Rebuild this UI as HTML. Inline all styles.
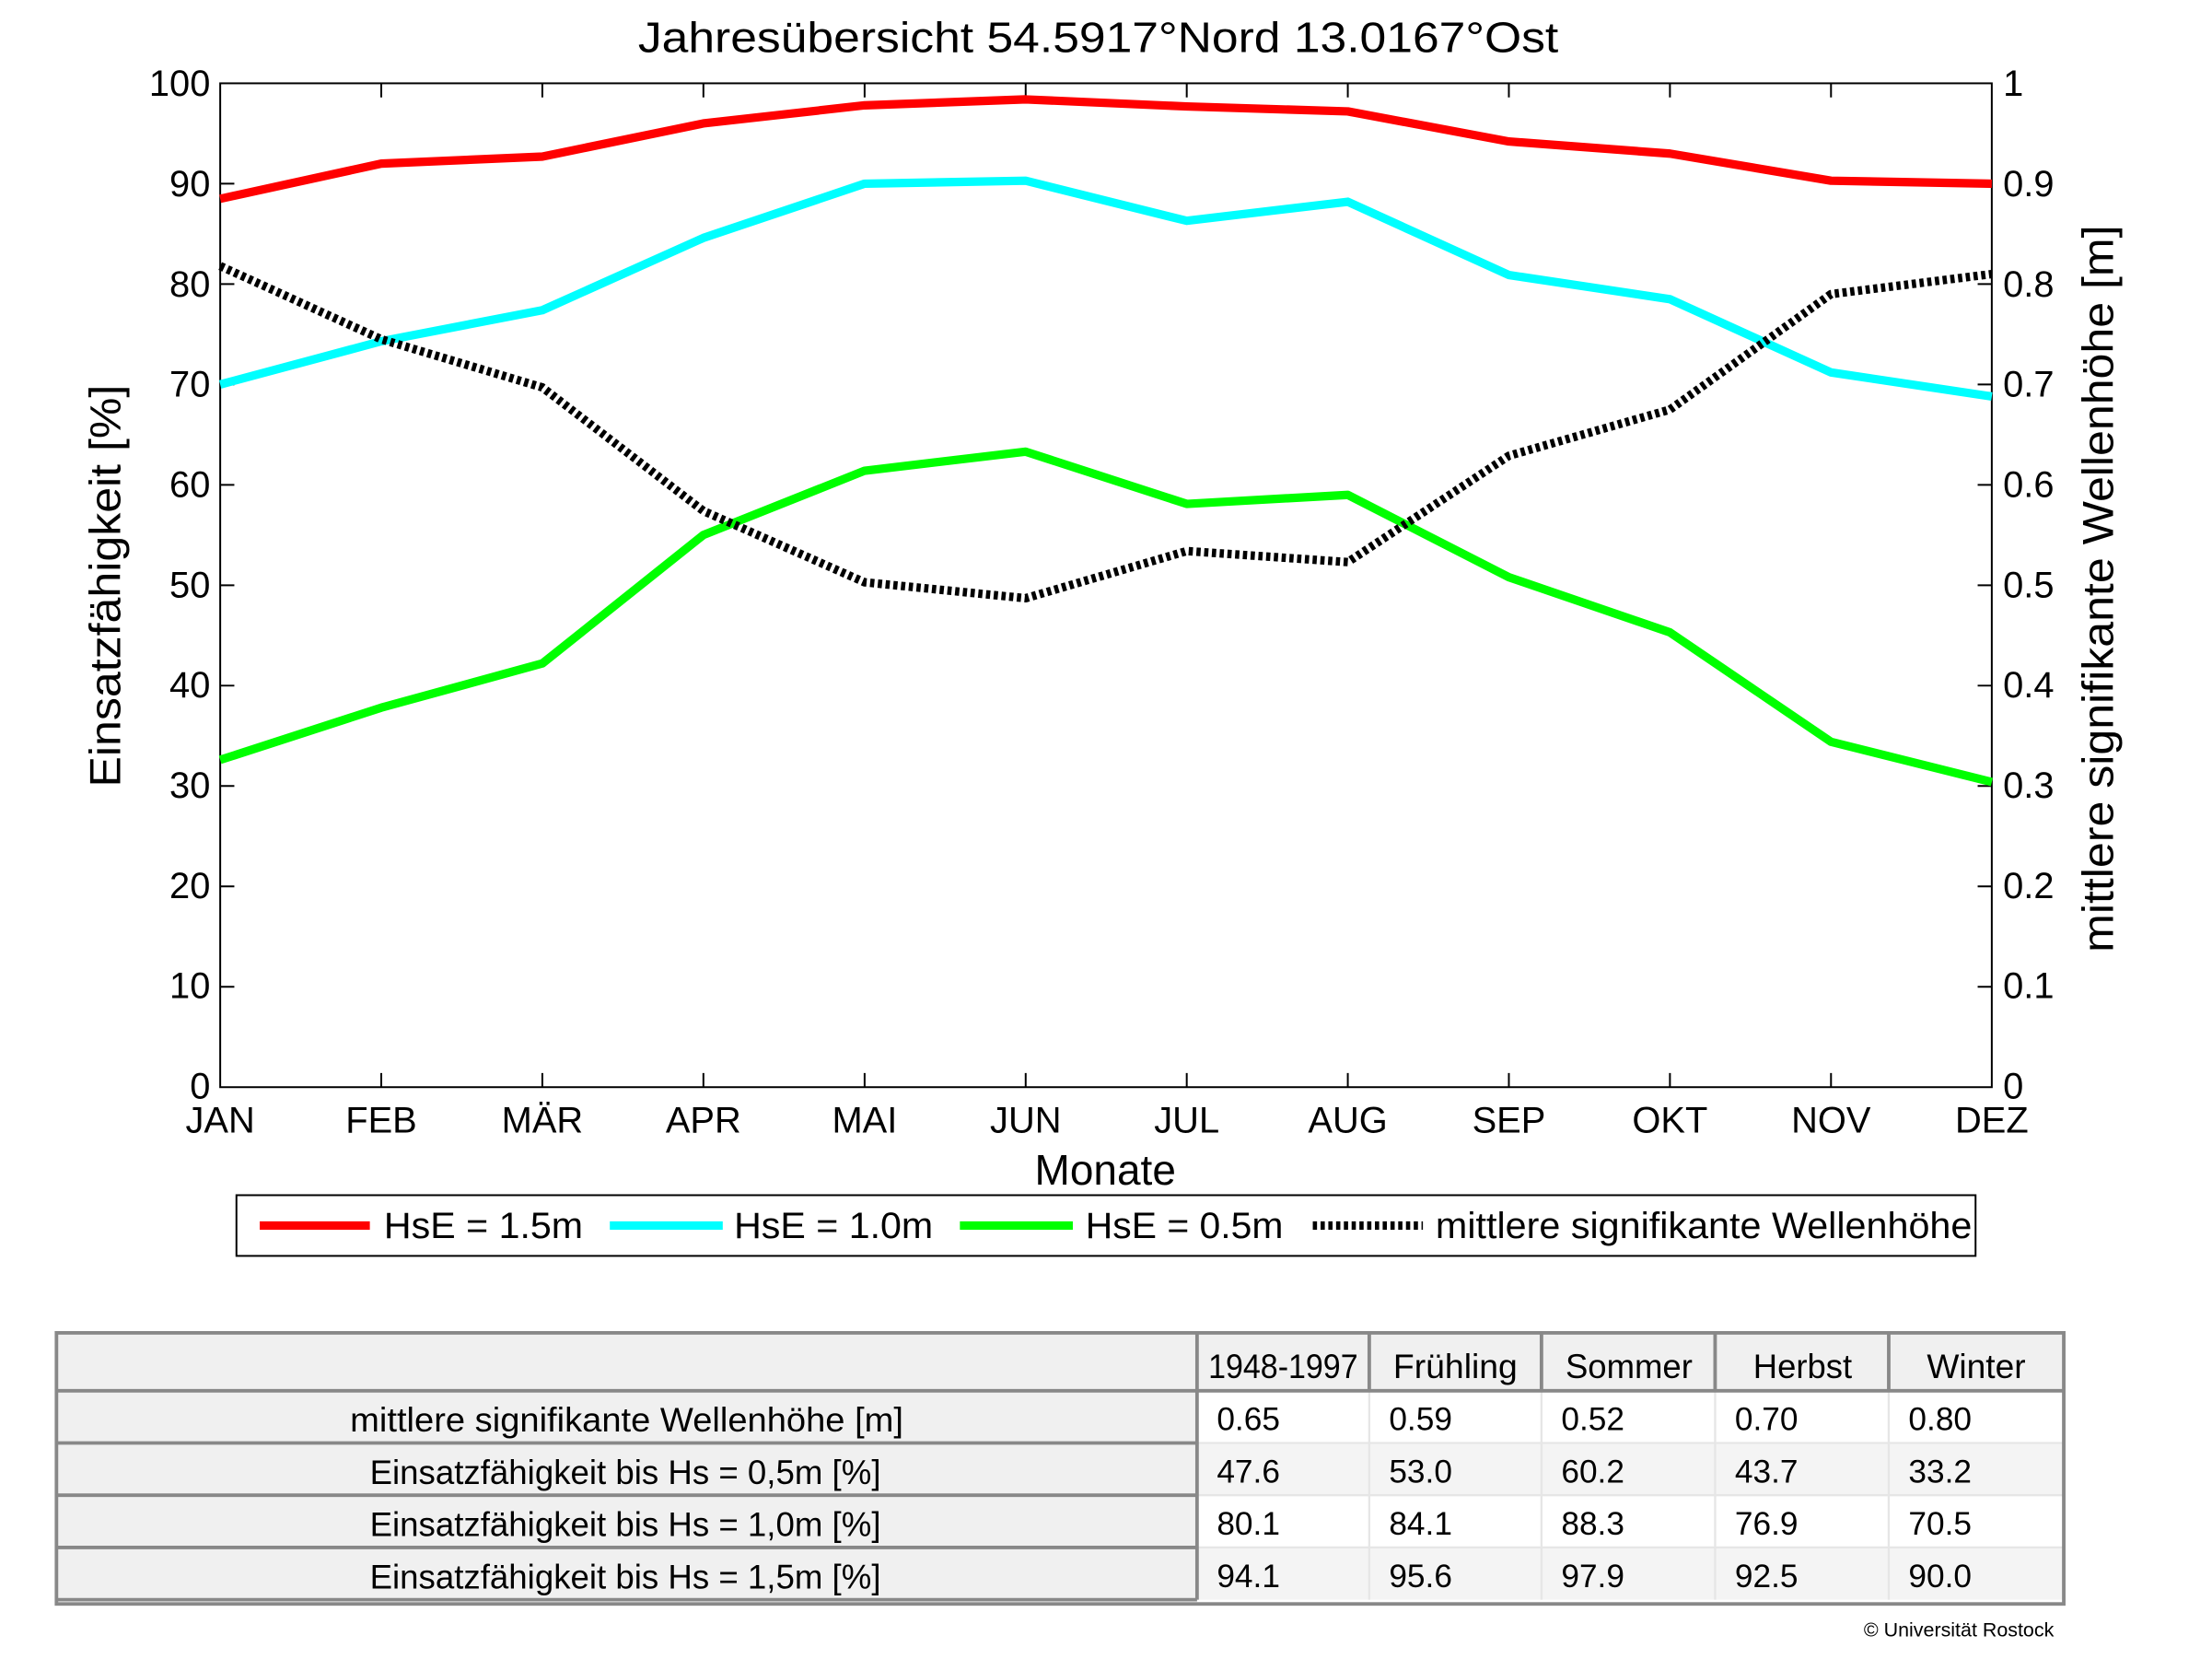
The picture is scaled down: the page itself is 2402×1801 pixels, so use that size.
<!DOCTYPE html>
<html><head><meta charset="utf-8"><style>
html,body{margin:0;padding:0;background:#fff;}
svg{display:block;}
text{font-family:"Liberation Sans",Arial,sans-serif;fill:#000;}
.n{font-family:"Liberation Sans Narrow","Liberation Sans",sans-serif;}
</style></head><body>
<svg width="2402" height="1801" viewBox="0 0 1567 1175" preserveAspectRatio="none" xmlns="http://www.w3.org/2000/svg">
<rect width="1567" height="1175" fill="#fff"/>
<text x="778" y="37" font-size="30" text-anchor="middle" textLength="652" lengthAdjust="spacingAndGlyphs">Jahresübersicht  54.5917°Nord  13.0167°Ost</text>
<g stroke="#000" stroke-width="1.3" fill="none">
<rect x="156" y="59" width="1255" height="711"/>
<path d="M156 130.1h10M156 201.2h10M156 272.3h10M156 343.4h10M156 414.5h10M156 485.6h10M156 556.7h10M156 627.8h10M156 698.9h10
M1411 130.1h-10M1411 201.2h-10M1411 272.3h-10M1411 343.4h-10M1411 414.5h-10M1411 485.6h-10M1411 556.7h-10M1411 627.8h-10M1411 698.9h-10
M270.1 770v-10M384.2 770v-10M498.3 770v-10M612.5 770v-10M726.6 770v-10M840.7 770v-10M954.8 770v-10M1068.9 770v-10M1183 770v-10M1297.1 770v-10
M270.1 59v10M384.2 59v10M498.3 59v10M612.5 59v10M726.6 59v10M840.7 59v10M954.8 59v10M1068.9 59v10M1183 59v10M1297.1 59v10"/>
</g>
<g font-size="26" text-anchor="end">
<text x="149" y="68">100</text><text x="149" y="139">90</text><text x="149" y="210">80</text><text x="149" y="281">70</text><text x="149" y="352">60</text><text x="149" y="423">50</text><text x="149" y="494">40</text><text x="149" y="565">30</text><text x="149" y="636">20</text><text x="149" y="707">10</text><text x="149" y="778">0</text>
</g>
<g font-size="26">
<text x="1419" y="68">1</text><text x="1419" y="139">0.9</text><text x="1419" y="210">0.8</text><text x="1419" y="281">0.7</text><text x="1419" y="352">0.6</text><text x="1419" y="423">0.5</text><text x="1419" y="494">0.4</text><text x="1419" y="565">0.3</text><text x="1419" y="636">0.2</text><text x="1419" y="707">0.1</text><text x="1419" y="778">0</text>
</g>
<g font-size="26" text-anchor="middle">
<text x="156" y="802">JAN</text><text x="270.1" y="802">FEB</text><text x="384.2" y="802">MÄR</text><text x="498.3" y="802">APR</text><text x="612.5" y="802">MAI</text><text x="726.6" y="802">JUN</text><text x="840.7" y="802">JUL</text><text x="954.8" y="802">AUG</text><text x="1068.9" y="802">SEP</text><text x="1183" y="802">OKT</text><text x="1297.1" y="802">NOV</text><text x="1411" y="802">DEZ</text>
</g>
<text x="783" y="839" font-size="30" text-anchor="middle">Monate</text>
<text transform="translate(85,415) rotate(-90)" font-size="31" text-anchor="middle" textLength="285" lengthAdjust="spacingAndGlyphs">Einsatzfähigkeit [%]</text>
<text transform="translate(1497,417) rotate(-90)" font-size="31" text-anchor="middle" textLength="515" lengthAdjust="spacingAndGlyphs">mittlere signifikante Wellenhöhe [m]</text>
<g fill="none" stroke-width="6" stroke-linejoin="round">
<polyline stroke="#f00" points="156,140.8 270.1,115.9 384.2,110.9 498.3,87.4 612.5,74.6 726.6,70.4 840.7,75.4 954.8,78.9 1068.9,100.2 1183,108.8 1297.1,128 1411,130.1"/>
<polyline stroke="#0ff" points="156,272.3 270.1,241.7 384.2,219.7 498.3,168.5 612.5,130.1 726.6,128 840.7,156.4 954.8,142.9 1068.9,194.8 1183,211.9 1297.1,263.8 1411,280.8"/>
<polyline stroke="#0f0" points="156,538.2 270.1,501.2 384.2,469.9 498.3,378.9 612.5,333.4 726.6,319.9 840.7,356.9 954.8,350.5 1068.9,408.8 1183,447.9 1297.1,525.4 1411,553.9"/>
<polyline stroke="#000" stroke-dasharray="3 2.5" points="156,188.4 270.1,240.3 384.2,274.4 498.3,361.9 612.5,412.4 726.6,423.7 840.7,390.3 954.8,398.1 1068.9,322.8 1183,290.1 1297.1,208.3 1411,194.1"/>
</g>
<rect x="167.5" y="846.5" width="1232" height="43" fill="#fff" stroke="#000" stroke-width="1.3"/>
<g stroke-width="6">
<line x1="184" y1="868" x2="262" y2="868" stroke="#f00"/>
<line x1="432" y1="868" x2="512" y2="868" stroke="#0ff"/>
<line x1="680" y1="868" x2="760" y2="868" stroke="#0f0"/>
<line x1="930" y1="868" x2="1008" y2="868" stroke="#000" stroke-dasharray="3 2.5"/>
</g>
<g font-size="26">
<text x="272" y="877" textLength="141" lengthAdjust="spacingAndGlyphs">HsE = 1.5m</text><text x="520" y="877" textLength="141" lengthAdjust="spacingAndGlyphs">HsE = 1.0m</text><text x="769" y="877" textLength="140" lengthAdjust="spacingAndGlyphs">HsE = 0.5m</text><text x="1017" y="877" textLength="380" lengthAdjust="spacingAndGlyphs">mittlere signifikante Wellenhöhe</text>
</g>
<rect x="40" y="944" width="1422" height="192" fill="#fff"/>
<rect x="40" y="944" width="808" height="189" fill="#f0f0f0"/>
<rect x="848" y="944" width="614" height="41" fill="#f0f0f0"/>
<rect x="848" y="1022" width="614" height="37" fill="#f4f4f4"/>
<rect x="848" y="1096" width="614" height="37" fill="#f4f4f4"/>
<g stroke="#e6e6e6" stroke-width="1.5">
<path d="M970 985v148M1092 985v148M1215 985v148M1338 985v148M848 1022h614M848 1059h614M848 1096h614"/>
</g>
<g stroke="#888" stroke-width="2.5" fill="none">
<rect x="40" y="944" width="1422" height="192"/>
<path d="M848 944v189M970 944v41M1092 944v41M1215 944v41M1338 944v41M40 985h1422M40 1022h808M40 1059h808M40 1096h808M40 1133h808"/>
</g>
<g class="n" font-size="24" text-anchor="middle">
<text x="909" y="976" textLength="106" lengthAdjust="spacingAndGlyphs">1948-1997</text>
<text x="1031" y="976" textLength="88" lengthAdjust="spacingAndGlyphs">Frühling</text><text x="1154" y="976" textLength="90" lengthAdjust="spacingAndGlyphs">Sommer</text><text x="1277" y="976" textLength="70" lengthAdjust="spacingAndGlyphs">Herbst</text><text x="1400" y="976" textLength="70" lengthAdjust="spacingAndGlyphs">Winter</text>
<text x="444" y="1014" textLength="392" lengthAdjust="spacingAndGlyphs">mittlere signifikante Wellenhöhe [m]</text>
<text x="443" y="1051" textLength="362" lengthAdjust="spacingAndGlyphs">Einsatzfähigkeit bis Hs = 0,5m [%]</text>
<text x="443" y="1088" textLength="362" lengthAdjust="spacingAndGlyphs">Einsatzfähigkeit bis Hs = 1,0m [%]</text>
<text x="443" y="1125" textLength="362" lengthAdjust="spacingAndGlyphs">Einsatzfähigkeit bis Hs = 1,5m [%]</text>
</g>
<g class="n" font-size="23">
<text x="862" y="1013">0.65</text><text x="984" y="1013">0.59</text><text x="1106" y="1013">0.52</text><text x="1229" y="1013">0.70</text><text x="1352" y="1013">0.80</text>
<text x="862" y="1050">47.6</text><text x="984" y="1050">53.0</text><text x="1106" y="1050">60.2</text><text x="1229" y="1050">43.7</text><text x="1352" y="1050">33.2</text>
<text x="862" y="1087">80.1</text><text x="984" y="1087">84.1</text><text x="1106" y="1087">88.3</text><text x="1229" y="1087">76.9</text><text x="1352" y="1087">70.5</text>
<text x="862" y="1124">94.1</text><text x="984" y="1124">95.6</text><text x="1106" y="1124">97.9</text><text x="1229" y="1124">92.5</text><text x="1352" y="1124">90.0</text>
</g>
<text x="1455" y="1159" font-size="14" text-anchor="end">© Universität Rostock</text>
</svg>
</body></html>
